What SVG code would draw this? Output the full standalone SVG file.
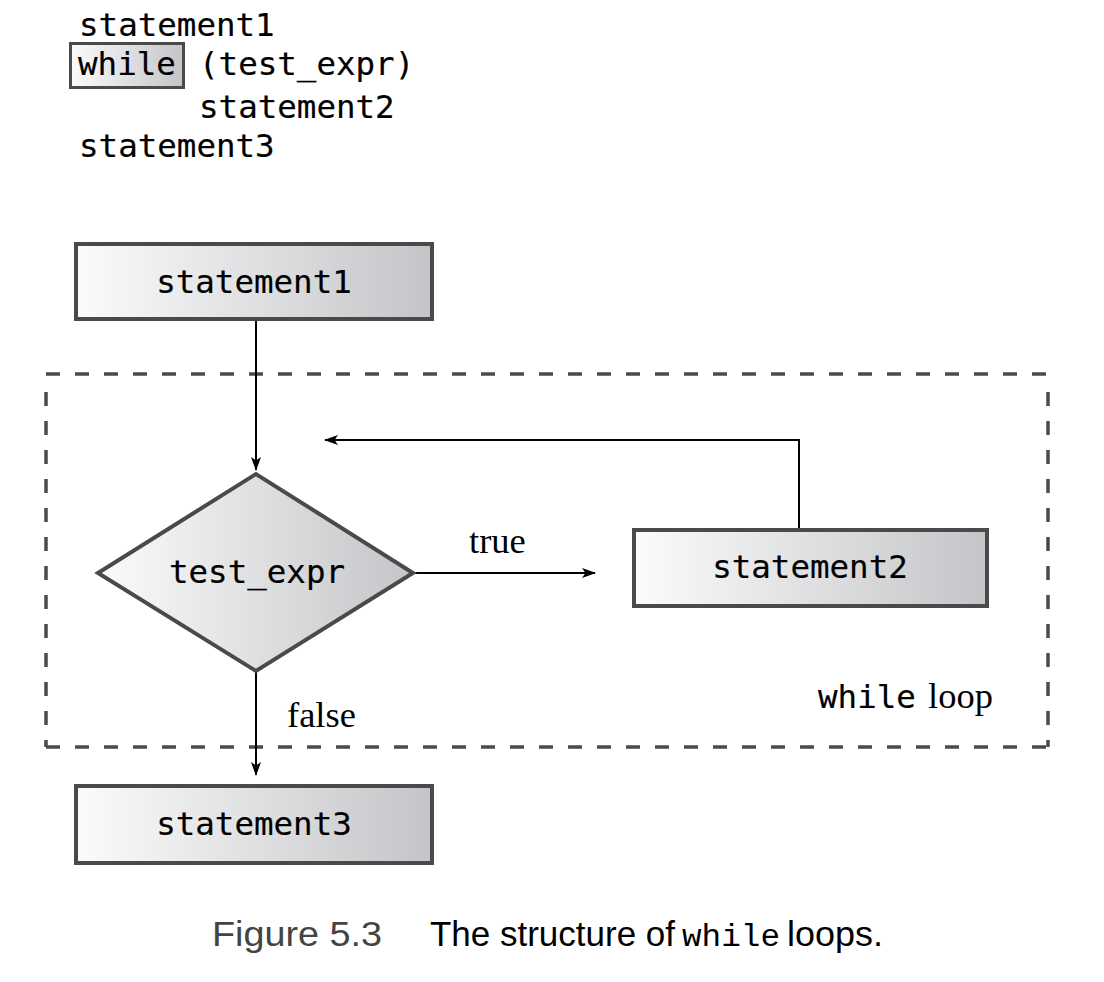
<svg xmlns="http://www.w3.org/2000/svg" width="1104" height="982" viewBox="0 0 1104 982">
  <defs>
    <linearGradient id="g" x1="0" y1="0" x2="1" y2="0">
      <stop offset="0" stop-color="#fbfbfb"/>
      <stop offset="1" stop-color="#c4c5c8"/>
    </linearGradient>
    <marker id="ah" markerWidth="14" markerHeight="10" refX="13" refY="5" orient="auto" markerUnits="userSpaceOnUse">
      <path d="M0,0 L14,5 L0,10 L3.5,5 Z" fill="#000"/>
    </marker>
    <style>
      .mono { font-family: "DejaVu Sans Mono", "Liberation Mono", monospace; font-size: 32.5px; fill: #000; stroke: #000; stroke-width: 0.2px; }
      .serif { font-family: "Liberation Serif", "Times New Roman", serif; font-size: 36.5px; fill: #000; }
      .box { fill: url(#g); stroke: #4a4a4a; stroke-width: 4; }
      .conn { fill: none; stroke: #000; stroke-width: 2; }
      .dash { fill: none; stroke: #4a4a4a; stroke-width: 3.5; stroke-dasharray: 14 15; }
      .cap { font-family: "Liberation Sans", Arial, sans-serif; font-size: 35px; }
    </style>
  </defs>
  <rect width="1104" height="982" fill="#fff"/>

  <g id="code">
    <text class="mono" x="79" y="36">statement1</text>
    <rect x="70.5" y="43.5" width="113" height="44" fill="url(#g)" stroke="#4a4a4a" stroke-width="3"/>
    <text class="mono" x="78" y="75">while</text>
    <text class="mono" x="199" y="75">(test_expr)</text>
    <text class="mono" x="199" y="118">statement2</text>
    <text class="mono" x="79" y="157">statement3</text>
  </g>

  <g id="loop-region">
    <line class="dash" x1="46" y1="374" x2="1048" y2="374"/>
    <line class="dash" x1="46" y1="747" x2="1048" y2="747"/>
    <line class="dash" x1="46" y1="392" x2="46" y2="747"/>
    <line class="dash" x1="1048" y1="392" x2="1048" y2="747"/>
    <text x="818" y="708"><tspan class="mono">while</tspan><tspan class="serif" x="928">loop</tspan></text>
  </g>

  <g id="connectors">
    <line class="conn" x1="256" y1="321" x2="256" y2="470" marker-end="url(#ah)"/>
    <line class="conn" x1="414" y1="573" x2="595" y2="573" marker-end="url(#ah)"/>
    <polyline class="conn" points="799,528 799,440 325,440" marker-end="url(#ah)"/>
    <line class="conn" x1="256" y1="672" x2="256" y2="775" marker-end="url(#ah)"/>
    <text class="serif" x="469" y="553">true</text>
    <text class="serif" x="287" y="727">false</text>
  </g>

  <g id="statement1">
    <rect class="box" x="76" y="244" width="356" height="75"/>
    <text class="mono" x="254" y="293" text-anchor="middle">statement1</text>
  </g>

  <g id="test_expr">
    <polygon class="box" points="98,573 256,474 413,573 256,671"/>
    <text class="mono" x="257" y="583" text-anchor="middle">test_expr</text>
  </g>

  <g id="statement2">
    <rect class="box" x="634" y="530" width="353" height="76"/>
    <text class="mono" x="810" y="578" text-anchor="middle">statement2</text>
  </g>

  <g id="statement3">
    <rect class="box" x="76" y="786" width="356" height="77"/>
    <text class="mono" x="254" y="835" text-anchor="middle">statement3</text>
  </g>

  <g id="caption">
    <text class="cap" x="212" y="946" fill="#444" textLength="170" lengthAdjust="spacingAndGlyphs">Figure 5.3</text>
    <text class="cap" x="430" y="946" fill="#000" textLength="245" lengthAdjust="spacingAndGlyphs">The structure of</text>
    <text x="682" y="946" font-family="'Liberation Mono', 'Courier New', monospace" font-size="31" fill="#000" textLength="98" lengthAdjust="spacingAndGlyphs">while</text>
    <text class="cap" x="787" y="946" fill="#000" textLength="96" lengthAdjust="spacingAndGlyphs">loops.</text>
  </g>
</svg>
